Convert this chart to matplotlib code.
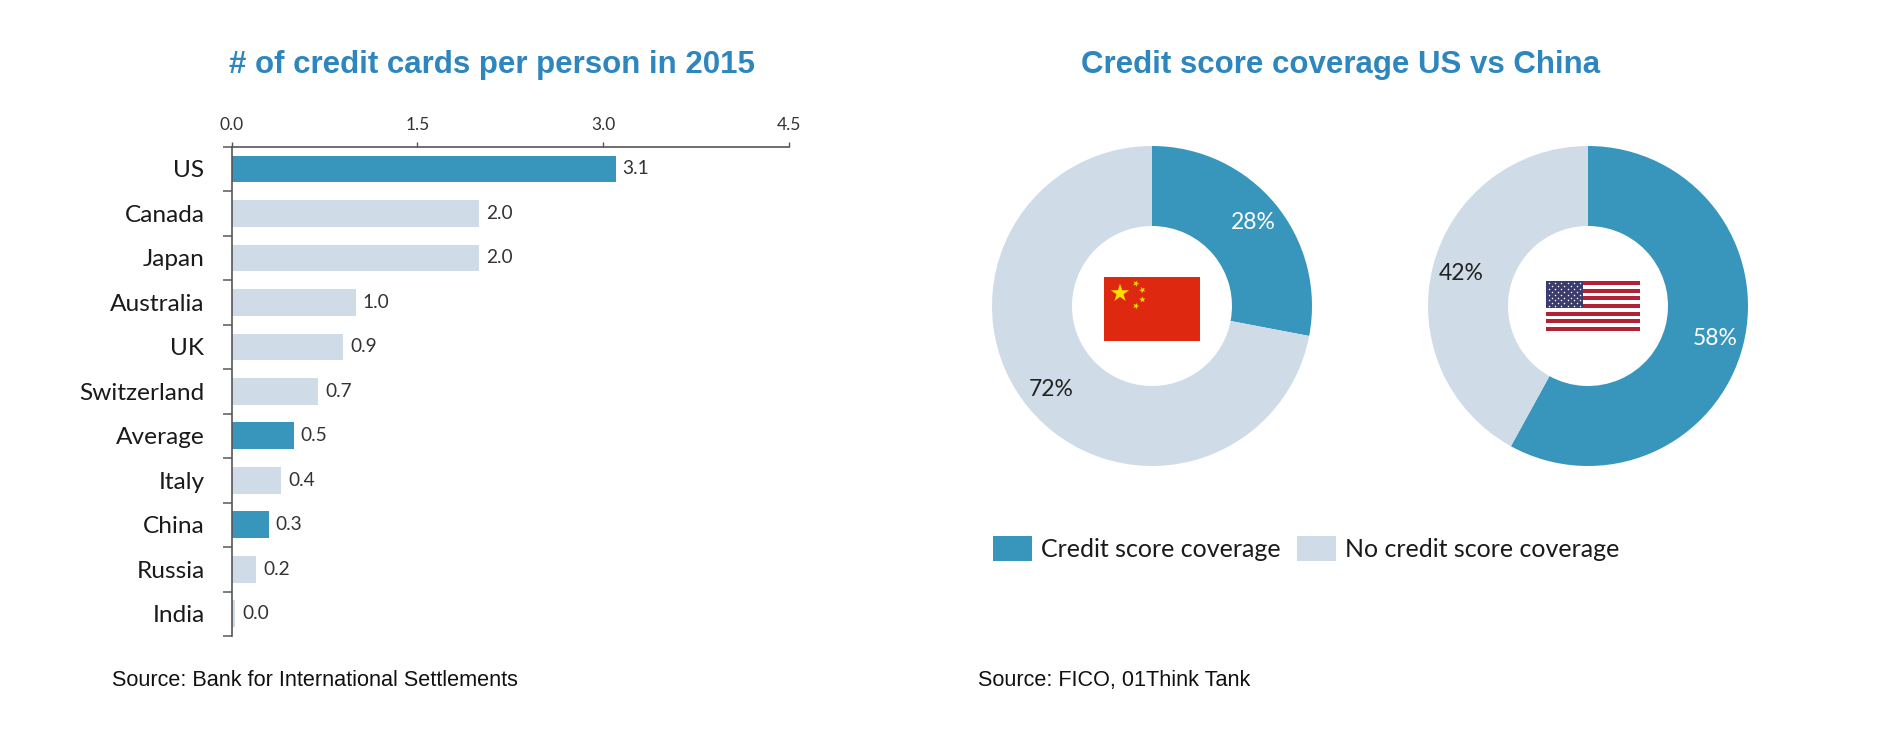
import numpy as np
import matplotlib
matplotlib.use("Agg")
import matplotlib.pyplot as plt
from matplotlib.patches import Rectangle, Polygon

# ---------------- data ----------------
countries = ['US', 'Canada', 'Japan', 'Australia', 'UK', 'Switzerland',
             'Average', 'Italy', 'China', 'Russia', 'India']
cards_per_person = [3.1, 2.0, 2.0, 1.0, 0.9, 0.7, 0.5, 0.4, 0.3, 0.2, 0.03]
highlighted = ['US', 'Average', 'China']
x_ticks = [0.0, 1.5, 3.0, 4.5]

coverage_labels = ['Credit score coverage', 'No credit score coverage']
china_coverage = [28, 72]
us_coverage = [58, 42]

title_left = '# of credit cards per person in 2015'
title_right = 'Credit score coverage US vs China'
source_left = 'Source: Bank for International Settlements'
source_right = 'Source: FICO, 01Think Tank'

# ---------------- style ----------------
BLUE = '#3896BD'
LIGHT = '#CFDCE7'
TITLE_C = '#2E86BE'
TXT = '#1a1a1a'
LBL_FONT = ['Lato', 'DejaVu Sans']
ARIAL = ['Liberation Sans', 'DejaVu Sans']

W, H = 1886, 731
fig = plt.figure(figsize=(W / 100, H / 100), dpi=100)
fig.patch.set_facecolor('white')

def fx(px):
    return px / W

def fy(py):
    return 1 - py / H

# ---------------- bar chart ----------------
ax = fig.add_axes([fx(231.7), fy(636.0), fx(789) - fx(231.7), fy(146.7) - fy(636.0)])
y = np.arange(len(countries))
colors = [BLUE if c in highlighted else LIGHT for c in countries]
bars = ax.barh(y, cards_per_person, height=0.6, color=colors, zorder=2)
ax.bar_label(bars, labels=[f'{v:.1f}' for v in cards_per_person], padding=5,
             fontsize=13.8, color='#333333', family=LBL_FONT)

ax.set_xlim(0, 4.5)
ax.set_ylim(len(countries) - 0.5, -0.5)
ax.xaxis.tick_top()
ax.set_xticks(x_ticks)
ax.set_xticklabels([f'{t:.1f}' for t in x_ticks], family=LBL_FONT, fontsize=12.5, color='#333333')
ax.tick_params(axis='x', length=3.6, width=1.0, color='#555555', pad=6.5)

ax.set_yticks(y)
ax.set_yticklabels(countries, family=LBL_FONT, fontsize=17.6, color=TXT)
ax.set_yticks(np.arange(-0.5, len(countries), 1.0), minor=True)
ax.tick_params(axis='y', which='major', length=0, pad=19.5)
ax.tick_params(axis='y', which='minor', length=6.5, width=1.2, color='#666666', direction='out')

for s in ['right', 'bottom']:
    ax.spines[s].set_visible(False)
for s in ['top', 'left']:
    ax.spines[s].set_color('#555555')
    ax.spines[s].set_linewidth(1.2)

# ---------------- donuts ----------------
R_PX = 160
LIM = 1.05

def donut_axes(cx, cy):
    half = R_PX * LIM
    return fig.add_axes([fx(cx - half), fy(cy + half), 2 * half / W, 2 * half / H])

def draw_donut(a, values):
    wedges, texts, autotexts = a.pie(values, colors=[BLUE, LIGHT], startangle=90,
                                     counterclock=False, radius=1.0,
                                     wedgeprops=dict(width=0.5, edgecolor='none'),
                                     autopct='%d%%', pctdistance=0.82,
                                     textprops=dict(family=LBL_FONT, fontsize=16.5))
    autotexts[0].set_color('white')
    autotexts[1].set_color('#222222')
    a.set_xlim(-LIM, LIM)
    a.set_ylim(-LIM, LIM)
    a.set_aspect('equal')
    a.axis('off')
    return wedges

def star(a, cx, cy, r, ang, color):
    t = np.deg2rad(ang) + np.arange(10) * np.pi / 5
    rr = np.where(np.arange(10) % 2 == 0, r, r * 0.382)
    pts = np.column_stack([cx + rr * np.cos(t), cy + rr * np.sin(t)])
    a.add_patch(Polygon(pts, closed=True, color=color, zorder=6, lw=0))

def china_flag(a, cx, cy, w):
    h = w * 2 / 3
    left, top = cx - w / 2, cy + h / 2
    a.add_patch(Rectangle((left, cy - h / 2), w, h, color='#DE2910', zorder=5, lw=0))
    u = w / 30
    bx, by = left + 5 * u, top - 5 * u
    star(a, bx, by, 3 * u, 90, '#FFDE00')
    for gx, gy in [(10, 2), (12, 4), (12, 7), (10, 9)]:
        sx, sy = left + gx * u, top - gy * u
        ang = np.degrees(np.arctan2(by - sy, bx - sx))
        star(a, sx, sy, 1.05 * u, ang, '#FFDE00')

def us_flag(a, cx, cy, w, h):
    left, bottom = cx - w / 2, cy - h / 2
    sh = h / 13
    a.add_patch(Rectangle((left, bottom), w, h, color='white', zorder=5, lw=0))
    for i in range(13):
        if i % 2 == 0:
            a.add_patch(Rectangle((left, bottom + i * sh), w, sh, color='#B22234', zorder=5, lw=0))
    cw, ch = w * 0.4, 7 * sh
    a.add_patch(Rectangle((left, bottom + h - ch), cw, ch, color='#3C3B6E', zorder=6, lw=0))
    xs, ys = [], []
    for row in range(9):
        n = 6 if row % 2 == 0 else 5
        off = 0 if row % 2 == 0 else 0.5
        for k in range(n):
            xs.append(left + cw * (k + 0.5 + off) / 6)
            ys.append(bottom + h - ch * (row + 0.5) / 9)
    a.scatter(xs, ys, s=1.2, color='white', zorder=7, linewidths=0)

ax_cn = donut_axes(1152, 306)
wedges_cn = draw_donut(ax_cn, china_coverage)
china_flag(ax_cn, 0.0, -0.02, 0.6)

ax_us = donut_axes(1588, 306)
draw_donut(ax_us, us_coverage)
us_flag(ax_us, 0.03, 0.0, 0.59, 0.31)

# ---------------- legend ----------------
fig.legend(wedges_cn, coverage_labels, ncol=2, loc='center left',
           bbox_to_anchor=(fx(993.3), fy(548.5)), bbox_transform=fig.transFigure,
           frameon=False, borderpad=0, borderaxespad=0,
           prop=dict(family=LBL_FONT, size=18),
           handlelength=1.56, handleheight=1.16, handletextpad=0.34,
           columnspacing=0.67, labelcolor=TXT)

# ---------------- titles & sources ----------------
fig.text(fx(492), fy(65.5), title_left, ha='center', va='center', fontsize=22.5,
         fontweight='bold', color=TITLE_C, family=ARIAL)
fig.text(fx(1341), fy(65.5), title_right, ha='center', va='center', fontsize=22.5,
         fontweight='bold', color=TITLE_C, family=ARIAL)
fig.text(fx(111.7), fy(680.5), source_left, ha='left', va='center', fontsize=15.6,
         color='#111111', family=ARIAL)
fig.text(fx(978.3), fy(680.5), source_right, ha='left', va='center', fontsize=15.6,
         color='#111111', family=ARIAL)

fig.savefig('out.png', dpi=100, facecolor='white')
